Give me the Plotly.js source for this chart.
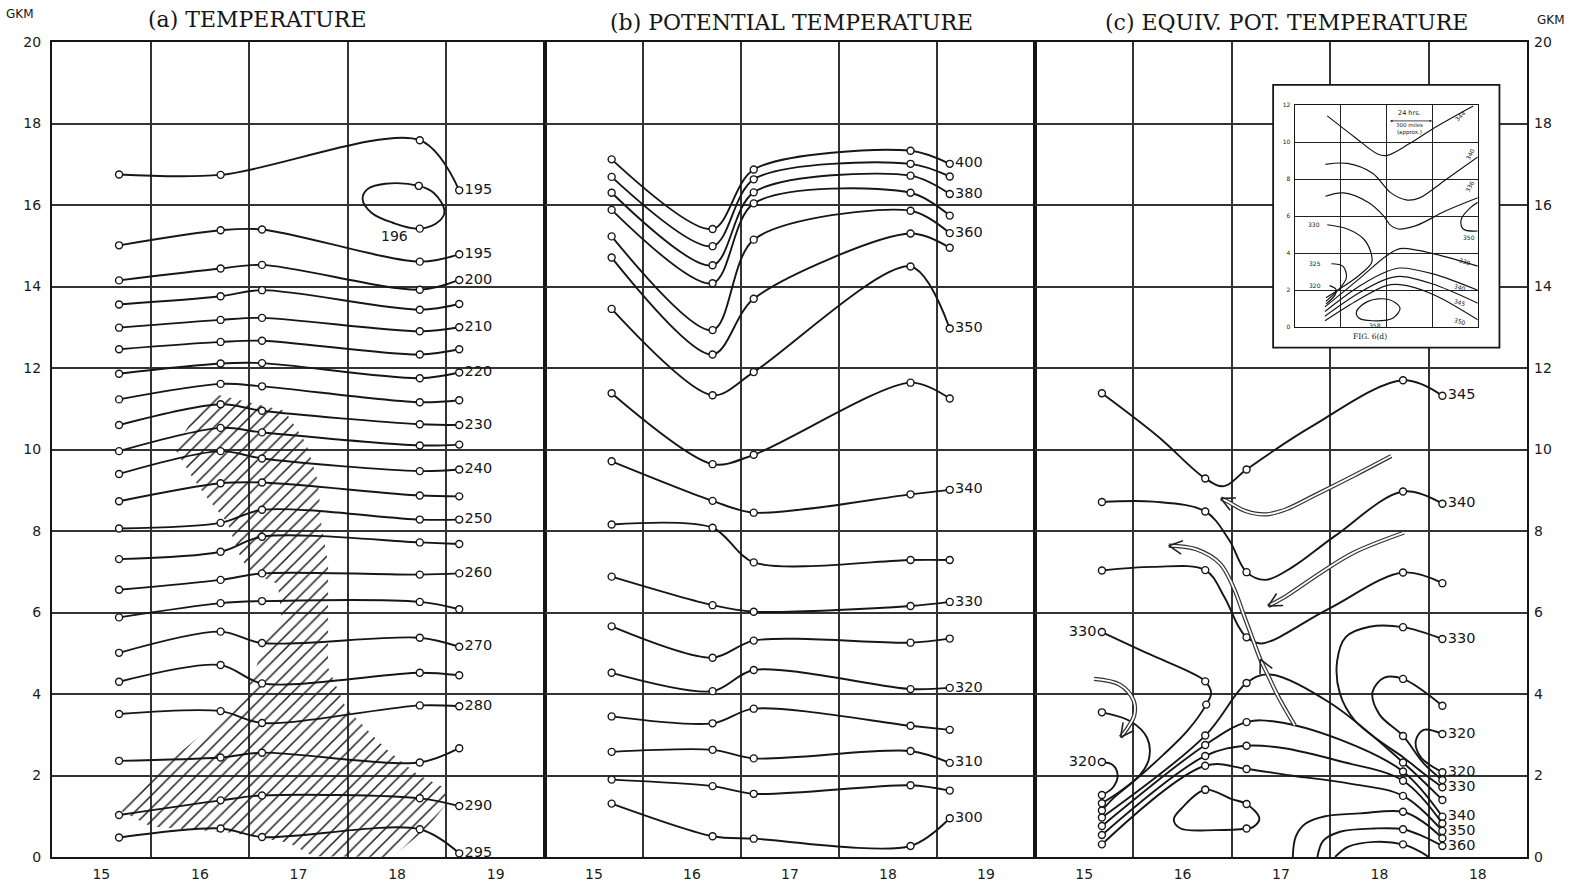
<!DOCTYPE html>
<html><head><meta charset="utf-8">
<script src="https://cdn.plot.ly/plotly-3.0.1.min.js"></script>
<style>html,body{margin:0;padding:0;background:#fff}#chart{width:1574px;height:889px}</style>
</head><body><div id="chart"></div>
<script>
// ---------- axes / ticks ----------
const xTickVals = [15, 16, 17, 18, 19];
const xTickTextAB = ['15', '16', '17', '18', '19'];
const xTickTextC = ['15', '16', '17', '18', '18'];
const xGridVals = [15.5, 16.5, 17.5, 18.5];
const yTickVals = [0, 2, 4, 6, 8, 10, 12, 14, 16, 18, 20];

// ---------- (a) temperature ----------
const tempStations = [15.18, 16.21, 16.63, 18.23, 18.63];
const tempLabels = ['195', '195', '200', '', '210', '', '220', '', '230', '', '240', '', '250', '', '260', '', '270', '', '280', '', '290', '295'];
const tempValues = [
  [16.75, 16.74, null, 17.59, 16.36],
  [15.01, 15.38, 15.40, 14.61, 14.79],
  [14.15, 14.44, 14.53, 13.92, 14.16],
  [13.56, 13.76, 13.91, 13.43, 13.57],
  [12.99, 13.18, 13.23, 12.90, 13.00],
  [12.46, 12.64, 12.67, 12.33, 12.46],
  [11.86, 12.11, 12.12, 11.75, 11.89],
  [11.23, 11.61, 11.55, 11.16, 11.21],
  [10.60, 11.11, 10.95, 10.62, 10.60],
  [9.96, 10.53, 10.42, 10.10, 10.12],
  [9.40, 9.96, 9.78, 9.47, 9.51],
  [8.73, 9.17, 9.19, 8.87, 8.85],
  [8.06, 8.20, 8.52, 8.28, 8.28],
  [7.31, 7.49, 7.86, 7.72, 7.68],
  [6.56, 6.80, 6.96, 6.93, 6.96],
  [5.88, 6.23, 6.28, 6.26, 6.08],
  [5.01, 5.53, 5.25, 5.38, 5.16],
  [4.30, 4.71, 4.26, 4.52, 4.46],
  [3.51, 3.58, 3.29, 3.72, 3.70],
  [2.36, 2.44, 2.56, 2.32, 2.67],
  [1.03, 1.39, 1.51, 1.44, 1.25],
  [0.48, 0.70, 0.49, 0.68, 0.09]
];
// closed 196 contour: [x, y, station circle]
const tempLoop196 = [[18.22,16.47,1],[18.37,16.30,0],[18.48,15.85,0],[18.43,15.61,0],[18.23,15.42,1],[17.95,15.57,0],[17.74,15.81,0],[17.65,16.14,0],[17.70,16.39,0],[17.88,16.52,0],[18.22,16.47,1]];
const tempLoopLabel = [17.97, 15.25, '196'];
// hatched (cloud) region outline
const hatchX = [16.17,16.86,17.08,17.2,17.23,17.3,17.3,17.48,17.88,18.21,18.48,18.5,18.3,18.1,17.95,17.15,16.9,16.3,15.5,15.15,15.41,15.85,16.43,16.57,16.68,16.83,16.79,16.5,16.39,16.28,16.06,15.92,15.75,15.94];
const hatchY = [11.35,10.95,10.14,9.2,8.2,7.2,4.65,3.66,2.67,2.02,1.7,1.3,0.7,0.3,0,0.02,0.35,0.6,0.75,1.2,1.85,2.67,3.82,4.65,5.47,5.88,6.7,7.0,7.47,8.2,8.85,9.33,10.0,10.83];

// ---------- (b) potential temperature ----------
const potStations = [15.18, 16.21, 16.63, 18.23, 18.63];
const potLabels = ['400', '', '380', '', '360', '', '350', '', '340', '', '330', '', '320', '', '310', '', '300'];
const potValues = [
  [17.12, 15.41, 16.87, 17.33, 17.01],
  [16.69, 14.99, 16.63, 17.01, 16.70],
  [16.30, 14.52, 16.31, 16.72, 16.27],
  [15.88, 14.08, 16.04, 16.30, 15.74],
  [15.23, 12.93, 15.15, 15.86, 15.31],
  [14.71, 12.33, 13.70, 15.30, 14.95],
  [13.45, 11.33, 11.90, 14.49, 12.97],
  [11.38, 9.64, 9.87, 11.64, 11.25],
  [9.71, 8.74, 8.45, 8.90, 9.01],
  [8.16, 8.08, 7.23, 7.29, 7.29],
  [6.88, 6.18, 6.02, 6.16, 6.26],
  [5.66, 4.89, 5.31, 5.26, 5.36],
  [4.52, 4.07, 4.59, 4.12, 4.15],
  [3.45, 3.28, 3.64, 3.22, 3.12],
  [2.58, 2.63, 2.42, 2.60, 2.31],
  [1.90, 1.74, 1.55, 1.76, 1.63],
  [1.31, 0.51, 0.45, 0.27, 0.95]
];

// ---------- (c) equivalent potential temperature: [x, y, circle, label] ----------
const eq345 = [[15.18,11.38,1,''],[15.75,10.32,0,''],[16.23,9.29,1,''],[16.42,9.1,0,''],[16.65,9.51,1,''],[17.3,10.55,0,''],[18.24,11.7,1,''],[18.64,11.32,1,'345']];
const eq340top = [[15.18,8.71,1,''],[15.7,8.72,0,''],[16.23,8.48,1,''],[16.47,7.79,0,''],[16.65,6.99,1,''],[16.84,6.8,0,''],[17.12,7.12,0,''],[17.55,7.88,0,''],[18.24,8.97,1,''],[18.64,8.67,1,'340']];
const eq335top = [[15.18,7.03,1,''],[15.7,7.12,0,''],[16.23,7.04,1,''],[16.42,6.4,0,''],[16.57,5.65,0,''],[16.65,5.39,1,''],[16.8,5.24,0,''],[17.47,6.07,0,''],[18.24,6.98,1,''],[18.64,6.72,1,'']];
const eq330left = [[15.18,5.52,1,'330'],[15.67,4.97,0,''],[16.09,4.52,0,''],[16.23,4.31,1,''],[16.29,4.02,0,''],[16.24,3.74,1,''],[16.05,3.1,0,''],[15.8,2.5,0,''],[15.5,1.85,0,''],[15.3,1.45,0,''],[15.18,1.14,1,'']];
const eq325left = [[15.18,3.55,1,''],[15.47,3.33,0,''],[15.64,2.92,0,''],[15.66,2.43,0,''],[15.57,2.02,0,''],[15.36,1.6,0,''],[15.18,1.32,1,'']];
const eq320left = [[15.18,2.33,1,'320'],[15.29,2.26,0,''],[15.34,2.0,0,''],[15.29,1.7,0,''],[15.18,1.52,1,'']];
const eq335x = [[15.18,0.97,1,''],[16.23,2.98,1,''],[16.65,4.27,1,''],[16.88,4.48,0,''],[17.5,3.78,0,''],[18.24,2.32,1,''],[18.64,1.4,1,'']];
const eq340x = [[15.18,0.76,1,''],[16.23,2.75,1,''],[16.65,3.31,1,''],[16.95,3.32,0,''],[17.6,2.88,0,''],[18.24,2.1,1,''],[18.64,0.99,1,'340']];
const eq345x = [[15.18,0.54,1,''],[16.23,2.48,1,''],[16.65,2.73,1,''],[17.0,2.68,0,''],[17.6,2.35,0,''],[18.24,1.87,1,''],[18.64,0.82,1,'']];
const eq350x = [[15.18,0.31,1,''],[16.23,2.24,1,''],[16.65,2.16,1,''],[17.1,2.0,0,''],[17.7,1.8,0,''],[18.24,1.5,1,''],[18.64,0.64,1,'350']];
const eq330right = [[18.64,5.35,1,'330'],[18.24,5.64,1,''],[17.9,5.65,0,''],[17.66,5.4,0,''],[17.57,4.8,0,''],[17.6,4.0,0,''],[17.75,3.35,0,''],[18.0,2.85,0,''],[18.24,2.45,0,''],[18.45,2.05,0,''],[18.64,1.71,1,'330']];
const eq325right = [[18.64,3.71,1,''],[18.24,4.37,1,''],[18.05,4.4,0,''],[17.93,4.05,0,''],[18.0,3.5,0,''],[18.24,2.97,1,''],[18.45,2.3,0,''],[18.64,1.89,1,'']];
const eq320right = [[18.64,3.02,1,'320'],[18.45,3.12,0,''],[18.37,2.85,0,''],[18.42,2.45,0,''],[18.64,2.08,1,'320']];
const eqLoop = [[16.23,1.65,1,''],[16.5,1.42,0,''],[16.65,1.3,1,''],[16.78,0.95,0,''],[16.72,0.74,0,''],[16.65,0.7,1,''],[16.33,0.66,0,''],[15.98,0.7,0,''],[15.91,0.92,0,''],[16.0,1.22,0,''],[16.23,1.65,1,'']];
const eqArch355 = [[17.12,0,0,''],[17.15,0.5,0,''],[17.25,0.82,0,''],[17.45,1.0,0,''],[17.8,1.07,0,''],[18.24,1.11,1,''],[18.45,0.85,0,''],[18.64,0.46,1,'']];
const eqArch360 = [[17.37,0,0,''],[17.43,0.4,0,''],[17.6,0.62,0,''],[17.95,0.7,0,''],[18.24,0.68,1,''],[18.45,0.5,0,''],[18.64,0.27,1,'360']];
const eqArch365 = [[17.55,0,0,''],[17.68,0.25,0,''],[17.95,0.37,0,''],[18.24,0.31,1,''],[18.4,0.15,0,''],[18.5,0,0,'']];
// streamline arrows
const flow1 = [[18.12,9.84],[17.74,9.36],[17.33,8.86],[17.05,8.53],[16.85,8.41],[16.64,8.49],[16.46,8.72],[16.39,8.8]];
const flow2 = [[18.25,7.96],[17.74,7.47],[17.4,6.97],[17.05,6.4],[16.87,6.16]];
const flow3 = [[17.14,3.23],[16.98,3.9],[16.86,4.5],[16.79,4.85],[16.72,5.3],[16.62,5.95],[16.52,6.6],[16.38,7.2],[16.14,7.55],[15.86,7.64]];
const flow4 = [[15.1,4.37],[15.36,4.23],[15.5,3.85],[15.51,3.49],[15.45,3.2],[15.37,2.94]];

// ---------- inset FIG. 6(d) (x: 0-4 columns, y: 0-12 GKM) ----------
const inset344 = [[0.71,11.42],[1.31,10.27],[1.82,9.35],[2.02,9.29],[2.5,9.91],[3.01,10.71],[3.9,11.95]];
const inset340 = [[0.67,8.8],[1.15,8.85],[1.7,8.32],[2.1,7.26],[2.46,6.87],[2.73,6.99],[3.29,7.96],[4.0,9.2]];
const inset336 = [[0.67,7.08],[1.07,7.26],[1.62,6.73],[1.94,6.02],[2.1,5.49],[2.26,5.31],[2.65,5.49],[3.29,6.28],[4.0,7.0]];
const inset350r = [[4.0,6.75],[3.84,6.46],[3.64,5.84],[3.68,5.31],[4.0,5.2]];
const inset330l = [[0.71,5.54],[1.15,5.31],[1.5,4.78],[1.66,4.07],[1.68,3.5],[1.4,2.8],[1.0,2.1],[0.68,1.6]];
const inset325 = [[0.8,3.43],[1.05,3.3],[1.13,2.7],[1.0,2.15],[0.68,1.4]];
const inset320 = [[0.76,2.25],[0.9,2.05],[0.88,1.75],[0.68,1.25]];
const insetX1 = [[0.66,1.1],[1.4,2.6],[2.0,3.85],[2.3,4.25],[2.7,4.15],[3.3,3.8],[4.0,3.3]];
const insetX2 = [[0.66,0.85],[1.4,2.2],[2.0,3.0],[2.3,3.2],[3.0,2.9],[4.0,2.0]];
const insetX3 = [[0.66,0.6],[1.4,1.85],[2.0,2.6],[2.3,2.75],[3.0,2.35],[4.0,1.3]];
const insetX4 = [[0.66,0.35],[1.4,1.5],[2.0,2.25],[2.3,2.3],[3.0,1.8],[4.0,0.4]];
const inset358 = [[1.35,0.85],[1.6,1.4],[2.05,1.5],[2.3,1.05],[2.15,0.5],[1.7,0.35],[1.4,0.5],[1.35,0.85]];
const insetLabels = [[3.62,11.45,'344',-45],[3.82,9.35,'340',-62],[3.82,7.6,'336',-62],[3.8,4.85,'350',0],[0.42,5.54,'330',0],[0.45,3.43,'325',0],[0.45,2.25,'320',0],[3.72,3.55,'330',18],[3.62,2.15,'340',18],[3.62,1.35,'345',18],[3.62,0.3,'350',18],[1.75,0.12,'358',0]];

// ---------- layout geometry ----------
const W = 1574, H = 889, ML = 52, MR = 47, MT = 42, MB = 32;
const PW = W - ML - MR, PH = H - MT - MB;
const dA = [0, 493 / PW], dB = [493 / PW, 983 / PW], dC = [983 / PW, 1];
const PXU = (PW * (dC[1] - dC[0])) / 5, PYU = PH / 20;
const xpC = x => dC[0] + (x - 14.5) / 5 * (dC[1] - dC[0]);
const INK = '#161616';
const FONT = 'DejaVu Sans, sans-serif';
const MK = {symbol: 'circle', size: 7, color: '#fff', line: {color: INK, width: 1.4}};
const traces = [];
const base = {hoverinfo: 'skip', showlegend: false, cliponaxis: false};

// hatch
traces.push(Object.assign({}, base, {
  x: hatchX.concat([hatchX[0]]), y: hatchY.concat([hatchY[0]]), xaxis: 'x', yaxis: 'y',
  mode: 'lines', fill: 'toself', line: {width: 0, color: 'rgba(0,0,0,0)'}, fillcolor: 'rgba(255,255,255,0)',
  fillpattern: {shape: '/', fgcolor: '#1e1e1e', bgcolor: 'rgba(0,0,0,0)', size: 9, solidity: 0.17, fillmode: 'replace'}
}));

function stationLines(stations, rows, labels, xa, smooth) {
  rows.forEach((row, r) => {
    const pts = stations.map((x, i) => [x, row[i]]).filter(p => p[1] !== null);
    traces.push(Object.assign({}, base, {
      x: pts.map(p => p[0]), y: pts.map(p => p[1]), xaxis: xa, yaxis: 'y',
      mode: 'lines+markers+text', line: {color: INK, width: 1.9, shape: 'spline', smoothing: smooth},
      marker: MK, text: pts.map((p, i) => i === pts.length - 1 ? labels[r] : ''),
      textposition: 'middle right', textfont: {family: FONT, size: 14.5, color: INK}
    }));
  });
}
function contour(pts, xa, ya, width, smooth) {
  traces.push(Object.assign({}, base, {
    x: pts.map(p => p[0]), y: pts.map(p => p[1]), xaxis: xa, yaxis: ya || 'y',
    mode: 'lines', line: {color: INK, width: width || 1.9, shape: 'spline', smoothing: smooth || 1.0}
  }));
  const st = pts.filter(p => p[2] === 1);
  if (st.length) traces.push(Object.assign({}, base, {
    x: st.map(p => p[0]), y: st.map(p => p[1]), xaxis: xa, yaxis: ya || 'y',
    mode: 'markers+text', marker: MK, text: st.map(p => p[3] || ''),
    textposition: st.map(p => p[0] < 16 ? 'middle left' : 'middle right'),
    textfont: {family: FONT, size: 14.5, color: INK}
  }));
}

stationLines(tempStations, tempValues, tempLabels, 'x', 0.9);
contour(tempLoop196, 'x', 'y', 1.9, 1.1);
stationLines(potStations, potValues, potLabels, 'x2', 0.85);

[eq345, eq340top, eq335top, eq330left, eq325left, eq320left, eq335x, eq340x, eq345x, eq350x,
 eq330right, eq325right, eq320right, eqLoop, eqArch355, eqArch360, eqArch365].forEach(c => contour(c, 'x3', 'y', 1.9, 1.0));

// streamline arrows (hollow double line)
function headPts(p0, p1) {
  const dx = (p1[0] - p0[0]) * PXU, dy = (p1[1] - p0[1]) * PYU;
  const L = Math.hypot(dx, dy), ux = -dx / L, uy = -dy / L, len = 15, a = 27 * Math.PI / 180;
  const side = t => [p1[0] + (ux * Math.cos(t) - uy * Math.sin(t)) * len / PXU, p1[1] + (ux * Math.sin(t) + uy * Math.cos(t)) * len / PYU];
  const s1 = side(a), s2 = side(-a);
  return {x: [s1[0], p1[0], s2[0]], y: [s1[1], p1[1], s2[1]]};
}
function flow(pts, midIdx) {
  const xs = pts.map(p => p[0]), ys = pts.map(p => p[1]);
  traces.push(Object.assign({}, base, {x: xs, y: ys, xaxis: 'x3', yaxis: 'y', mode: 'lines', line: {color: '#333', width: 4.2, shape: 'spline'}}));
  traces.push(Object.assign({}, base, {x: xs, y: ys, xaxis: 'x3', yaxis: 'y', mode: 'lines', line: {color: '#fff', width: 1.8, shape: 'spline'}}));
  const heads = [headPts(pts[pts.length - 2], pts[pts.length - 1])];
  if (midIdx) heads.push(headPts(pts[midIdx - 1], pts[midIdx]));
  heads.forEach(h => traces.push(Object.assign({}, base, {x: h.x, y: h.y, xaxis: 'x3', yaxis: 'y', mode: 'lines', line: {color: '#222', width: 1.6}})));
}
flow(flow1); flow(flow2); flow(flow3, 3); flow(flow4);

// inset lines
[inset344, inset340, inset336, inset350r, inset330l, inset325, inset320, insetX1, insetX2, insetX3, insetX4, inset358]
  .forEach(c => contour(c.map(p => [p[0], p[1], 0, '']), 'x4', 'y3', 1.2, 1.0));

// dummy for right axis
traces.push(Object.assign({}, base, {x: [15], y: [0], xaxis: 'x3', yaxis: 'y2', mode: 'markers', marker: {opacity: 0}}));

const tickFont = {family: FONT, size: 14, color: '#1a1a1a'};
const GRID = '#333333', GW = 2;
function xAxis(dom, ticktext) {
  return {domain: dom, range: [14.5, 19.5], anchor: 'y', tickmode: 'array', tickvals: xTickVals, ticktext: ticktext,
    showgrid: false, zeroline: false, showline: true, mirror: true, linecolor: INK, linewidth: 2, ticks: '',
    tickfont: tickFont, ticklabelstandoff: 3,
    minor: {tickmode: 'array', tickvals: xGridVals, showgrid: true, gridcolor: GRID, gridwidth: GW, ticks: ''}};
}
const annotations = [
  {text: '(a) TEMPERATURE', x: (257 - ML) / PW, y: (H - MB - 20) / PH},
  {text: '(b) POTENTIAL TEMPERATURE', x: (791 - ML) / PW, y: (H - MB - 23) / PH},
  {text: '(c) EQUIV. POT. TEMPERATURE', x: (1286 - ML) / PW, y: (H - MB - 23) / PH}
].map(a => Object.assign(a, {xref: 'paper', yref: 'paper', showarrow: false, xanchor: 'center', yanchor: 'middle',
  font: {family: 'DejaVu Serif, serif', size: 22, color: INK}}));
annotations.push({text: 'GKM', x: (20 - ML) / PW, y: (H - MB - 14) / PH, xref: 'paper', yref: 'paper', showarrow: false,
  font: {family: FONT, size: 12, color: INK}, xanchor: 'center', yanchor: 'middle'});
annotations.push({text: 'GKM', x: (1551 - ML) / PW, y: (H - MB - 20) / PH, xref: 'paper', yref: 'paper', showarrow: false,
  font: {family: FONT, size: 12, color: INK}, xanchor: 'center', yanchor: 'middle'});
annotations.push({text: tempLoopLabel[2], x: tempLoopLabel[0], y: tempLoopLabel[1], xref: 'x', yref: 'y', showarrow: false,
  font: {family: FONT, size: 14, color: INK}, xanchor: 'center', yanchor: 'middle'});
insetLabels.forEach(l => annotations.push({text: l[2], x: l[0], y: l[1], xref: 'x4', yref: 'y3', showarrow: false,
  textangle: l[3], font: {family: FONT, size: 6, color: INK}, xanchor: 'center', yanchor: 'middle'}));
annotations.push({text: '24 hrs.', x: 2.5, y: 11.55, xref: 'x4', yref: 'y3', showarrow: false, font: {family: FONT, size: 6.5, color: INK}});
annotations.push({text: '300 miles<br>(approx.)', x: 2.5, y: 10.7, xref: 'x4', yref: 'y3', showarrow: false, font: {family: FONT, size: 5.5, color: INK}});
annotations.push({text: '', x: 3.0, y: 11.15, ax: 2.05, ay: 11.15, axref: 'x4', ayref: 'y3', xref: 'x4', yref: 'y3', showarrow: true,
  arrowside: 'end+start', arrowhead: 2, arrowsize: 0.6, arrowwidth: 0.8, arrowcolor: INK});
annotations.push({text: 'GKM.', x: -0.15, y: 12.75, xref: 'x4', yref: 'y3', showarrow: false, font: {family: FONT, size: 5.5, color: INK}});
annotations.push({text: 'FIG. 6(d)', x: 17.9, y: 12.77, xref: 'x3', yref: 'y', showarrow: false, font: {family: 'DejaVu Serif, serif', size: 7.5, color: INK}});

const layout = {
  width: W, height: H, margin: {l: ML, r: MR, t: MT, b: MB}, paper_bgcolor: '#fff', plot_bgcolor: '#fff',
  showlegend: false, hovermode: false,
  xaxis: xAxis(dA, xTickTextAB), xaxis2: xAxis(dB, xTickTextAB), xaxis3: xAxis(dC, xTickTextC),
  yaxis: {domain: [0, 1], range: [0, 20], anchor: 'x', tickmode: 'array', tickvals: yTickVals, showgrid: true,
    gridcolor: GRID, gridwidth: GW, zeroline: false, showline: true, mirror: 'all', linecolor: INK, linewidth: 2,
    ticks: '', tickfont: tickFont, ticklabelstandoff: 6},
  yaxis2: {overlaying: 'y', side: 'right', anchor: 'x3', range: [0, 20], tickmode: 'array', tickvals: yTickVals,
    showgrid: false, zeroline: false, showline: false, ticks: '', tickfont: tickFont, ticklabelstandoff: 6},
  xaxis4: {domain: [xpC(17.14), xpC(19.0)], range: [0, 4], anchor: 'y3', tickmode: 'array', tickvals: [1, 2, 3],
    showticklabels: false, showgrid: true, gridcolor: '#222', gridwidth: 1, zeroline: false, showline: true, mirror: true,
    linecolor: INK, linewidth: 1.2, ticks: ''},
  yaxis3: {domain: [13.0 / 20, 18.45 / 20], range: [0, 12], anchor: 'x4', tickmode: 'array', tickvals: [0, 2, 4, 6, 8, 10, 12],
    showgrid: true, gridcolor: '#222', gridwidth: 1, zeroline: false, showline: true, mirror: true, linecolor: INK, linewidth: 1.2,
    ticks: '', tickfont: {family: FONT, size: 6, color: INK}, ticklabelstandoff: 2},
  shapes: [{type: 'rect', xref: 'x3', yref: 'y', x0: 16.92, x1: 19.22, y0: 12.5, y1: 18.95, fillcolor: '#fff',
    line: {color: INK, width: 1.8}, layer: 'between'}],
  annotations: annotations
};
Plotly.newPlot('chart', traces, layout, {displayModeBar: false, staticPlot: true});
</script></body></html>
